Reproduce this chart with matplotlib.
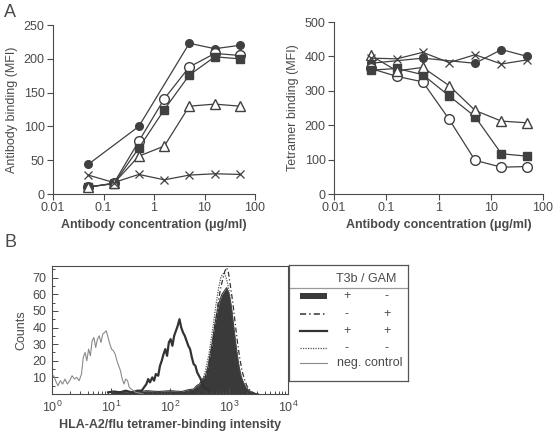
import matplotlib
matplotlib.use("Agg")
import matplotlib.pyplot as plt
import numpy as np
from matplotlib.ticker import MultipleLocator, LogLocator, NullFormatter

plt.rcParams['font.family'] = ['Liberation Sans', 'DejaVu Sans']
GREY = '#4a4a4a'
plt.rcParams['text.color'] = GREY
plt.rcParams['axes.edgecolor'] = GREY
plt.rcParams['xtick.color'] = GREY
plt.rcParams['ytick.color'] = GREY
plt.rcParams['axes.labelcolor'] = GREY

# Panel A data (antibody concentration in ug/ml)
conc = [0.05, 0.16, 0.5, 1.6, 5, 16, 50]
conc_fc = [0.05, 0.5, 5, 16, 50]

ab_filled_circle = [44, 100, 223, 215, 220]
ab_open_circle = [10, 16, 78, 141, 188, 208, 205]
ab_square = [11, 15, 68, 125, 176, 203, 200]
ab_triangle = [10, 16, 56, 71, 130, 133, 130]
ab_cross = [28, 17, 29, 21, 28, 30, 29]

tet_filled_circle = [380, 395, 380, 420, 400]
tet_open_circle = [365, 342, 326, 217, 98, 78, 80]
tet_square = [360, 365, 347, 285, 225, 117, 110]
tet_triangle = [403, 358, 368, 315, 243, 212, 207]
tet_cross = [395, 393, 412, 382, 405, 378, 390]

# Panel B histograms (log10 intensity, counts)
neg_log = [0.00, 0.03, 0.06, 0.10, 0.14, 0.18, 0.22, 0.26, 0.30, 0.34, 0.38, 0.42,
           0.46, 0.50, 0.53, 0.56, 0.59, 0.62, 0.65, 0.68, 0.71, 0.74, 0.77, 0.80,
           0.83, 0.86, 0.89, 0.92, 0.95, 0.98, 1.01, 1.04, 1.07, 1.10, 1.13, 1.16,
           1.19, 1.22, 1.25, 1.28, 1.31, 1.34, 1.38, 1.42, 1.48, 1.55]
neg_cnt = [10, 11, 8, 5, 8, 6, 9, 6, 8, 11, 9, 10, 8, 12, 22, 25, 20, 27, 23, 32,
           34, 28, 33, 35, 31, 36, 37, 38, 34, 30, 27, 26, 24, 20, 17, 14, 9, 6,
           9, 8, 4, 3, 2, 1, 0.5, 0]

both_log = [0.95, 1.05, 1.15, 1.25, 1.35, 1.45, 1.52, 1.56, 1.60, 1.63, 1.66, 1.70,
            1.73, 1.76, 1.80, 1.83, 1.86, 1.89, 1.92, 1.95, 1.98, 2.01, 2.04, 2.07,
            2.10, 2.13, 2.16, 2.19, 2.22, 2.25, 2.28, 2.31, 2.34, 2.37, 2.40, 2.43,
            2.46, 2.49, 2.52, 2.55, 2.58, 2.62, 2.66]
both_cnt = [1, 1.5, 1, 2, 1, 2, 2, 4, 6, 9, 7, 10, 8, 12, 11, 17, 20, 24, 27, 23,
            31, 33, 29, 35, 38, 41, 45, 40, 37, 35, 32, 29, 27, 22, 18, 17, 13, 11,
            9, 6, 4, 3, 2]

t3b_log = [1.0, 1.2, 1.4, 1.6, 1.8, 2.0, 2.2, 2.3, 2.4, 2.45, 2.5, 2.55, 2.6, 2.64,
           2.68, 2.72, 2.76, 2.80, 2.84, 2.88, 2.92, 2.96, 3.00, 3.04, 3.08, 3.12,
           3.16, 3.20, 3.24, 3.28, 3.32, 3.36, 3.42, 3.50]
t3b_cnt = [1, 1.5, 1, 2, 1.5, 2, 1.5, 2.5, 3, 5, 6, 9, 11, 16, 24, 32, 42, 50, 56,
           60, 62, 64, 60, 52, 40, 28, 18, 11, 7, 4, 2.5, 1.5, 0.5, 0]

gam_log = [2.40, 2.50, 2.58, 2.64, 2.70, 2.76, 2.82, 2.86, 2.90, 2.93, 2.96, 2.99,
           3.02, 3.06, 3.10, 3.14, 3.18, 3.22, 3.26, 3.30, 3.36, 3.45]
gam_cnt = [2, 4, 8, 14, 25, 40, 56, 64, 70, 74, 76, 73, 66, 56, 44, 32, 22, 14, 9,
           5, 2, 0]

none_log = [2.40, 2.48, 2.55, 2.60, 2.66, 2.72, 2.78, 2.82, 2.86, 2.89, 2.92, 2.95,
            2.98, 3.02, 3.06, 3.10, 3.14, 3.18, 3.22, 3.28, 3.35, 3.45]
none_cnt = [2, 4, 8, 14, 24, 38, 54, 63, 70, 72, 73, 70, 66, 58, 46, 34, 24, 15, 9,
            5, 2, 0]

fig = plt.figure(figsize=(5.54, 4.37), dpi=100)

LC = '#404040'


def style_a(ax, ymax, ystep):
    ax.set_xscale('log')
    ax.set_xlim(0.01, 100)
    ax.set_ylim(0, ymax)
    ax.yaxis.set_major_locator(MultipleLocator(ystep))
    ax.xaxis.set_major_locator(LogLocator(base=10, numticks=10))
    ax.xaxis.set_minor_locator(LogLocator(base=10, subs=(), numticks=10))
    ax.set_xticks([0.01, 0.1, 1, 10, 100])
    ax.set_xticklabels(['0.01', '0.1', '1', '10', '100'])
    ax.spines['top'].set_visible(False)
    ax.spines['right'].set_visible(False)
    ax.tick_params(direction='out', length=4, width=0.8, labelsize=9, pad=2)
    ax.set_xlabel('Antibody concentration (\u03bcg/ml)', fontsize=9, fontweight='bold', labelpad=3)


def draw_series(ax, fc, oc, sq, tr, cr):
    kw = dict(color=LC, lw=0.9)
    ax.plot(conc_fc, fc, marker='o', ms=5.5, mfc=LC, mec=LC, **kw)
    ax.plot(conc, oc, marker='o', ms=7, mfc='white', mec=LC, **kw)
    ax.plot(conc, sq, marker='s', ms=5.5, mfc=LC, mec=LC, **kw)
    ax.plot(conc, tr, marker='^', ms=6.5, mfc='white', mec=LC, **kw)
    ax.plot(conc, cr, marker='x', ms=5.5, mec=LC, mew=0.9, **kw)


ax1 = fig.add_axes([0.0957, 0.556, 0.3646, 0.3867])
draw_series(ax1, ab_filled_circle, ab_open_circle, ab_square, ab_triangle, ab_cross)
style_a(ax1, 250, 50)
ax1.set_ylabel('Antibody binding (MFI)', fontsize=9, labelpad=4)

ax2 = fig.add_axes([0.6029, 0.556, 0.3773, 0.3936])
draw_series(ax2, tet_filled_circle, tet_open_circle, tet_square, tet_triangle, tet_cross)
style_a(ax2, 500, 100)
ax2.set_ylabel('Tetramer binding (MFI)', fontsize=9, labelpad=4)

fig.text(0.008, 0.962, 'A', fontsize=13)
fig.text(0.008, 0.435, 'B', fontsize=13)

# Panel B
ax3 = fig.add_axes([0.0939, 0.0984, 0.426, 0.2929])
ax3.fill_between(10 ** np.array(t3b_log), t3b_cnt, color='#3a3a3a', lw=0)
ax3.plot(10 ** np.array(t3b_log), t3b_cnt, color='#3a3a3a', lw=0.8)
ax3.plot(10 ** np.array(none_log), none_cnt, color='#555555', lw=0.9, ls=(0, (1, 1)))
ax3.plot(10 ** np.array(gam_log), gam_cnt, color='#333333', lw=0.9, ls=(0, (4, 2, 1, 2)))
ax3.plot(10 ** np.array(both_log), both_cnt, color='#333333', lw=1.6)
ax3.plot(10 ** np.array(neg_log), neg_cnt, color='#8a8a8a', lw=0.8)
ax3.set_xscale('log')
ax3.set_xlim(1, 1e4)
ax3.set_ylim(0, 77)
ax3.set_yticks([10, 20, 30, 40, 50, 60, 70])
ax3.yaxis.set_minor_locator(MultipleLocator(5))
ax3.xaxis.set_minor_locator(LogLocator(base=10, subs=np.arange(2, 10), numticks=10))
ax3.xaxis.set_minor_formatter(NullFormatter())
ax3.tick_params(which='both', direction='in', labelsize=9, width=0.7, pad=4)
ax3.tick_params(which='major', length=4)
ax3.tick_params(which='minor', length=2)
ax3.set_xlabel('HLA-A2/flu tetramer-binding intensity', fontsize=9, fontweight='bold', labelpad=3)
ax3.set_ylabel('Counts', fontsize=9, labelpad=4)

# Legend box
lg = fig.add_axes([0.5217, 0.1281, 0.2148, 0.2654])
lg.set_xlim(0, 1)
lg.set_ylim(0, 1)
lg.set_xticks([])
lg.set_yticks([])
for s in lg.spines.values():
    s.set_color('#555555')
    s.set_linewidth(0.9)
lg.text(0.645, 0.877, 'T3b / GAM', ha='center', va='center', fontsize=9)
lg.plot([0, 1], [0.80, 0.80], color='#999999', lw=0.9)

legend_marks = ['fill', 'dash', 'solid', 'dot', 'neg']
legend_t3b = ['+', '-', '+', '-', '']
legend_gam = ['-', '+', '+', '-', '']
row_y = [0.733, 0.578, 0.431, 0.284, 0.155]
for mark, a, b, y in zip(legend_marks, legend_t3b, legend_gam, row_y):
    if mark == 'fill':
        lg.add_patch(plt.Rectangle((0.092, y - 0.028), 0.227, 0.056, color='#3a3a3a', lw=0))
    elif mark == 'dash':
        lg.plot([0.092, 0.319], [y, y], color='#333333', lw=1.1, ls=(0, (4, 2, 1, 2)))
    elif mark == 'solid':
        lg.plot([0.092, 0.319], [y, y], color='#333333', lw=1.6)
    elif mark == 'dot':
        lg.plot([0.092, 0.319], [y, y], color='#555555', lw=0.9, ls=(0, (1, 1)))
    else:
        lg.plot([0.092, 0.319], [y, y], color='#8a8a8a', lw=0.8)
        lg.text(0.40, y, 'neg. control', ha='left', va='center', fontsize=9)
        continue
    lg.text(0.485, y, a, ha='center', va='center', fontsize=9)
    lg.text(0.821, y, b, ha='center', va='center', fontsize=9)

fig.savefig('out.png', dpi=100)
